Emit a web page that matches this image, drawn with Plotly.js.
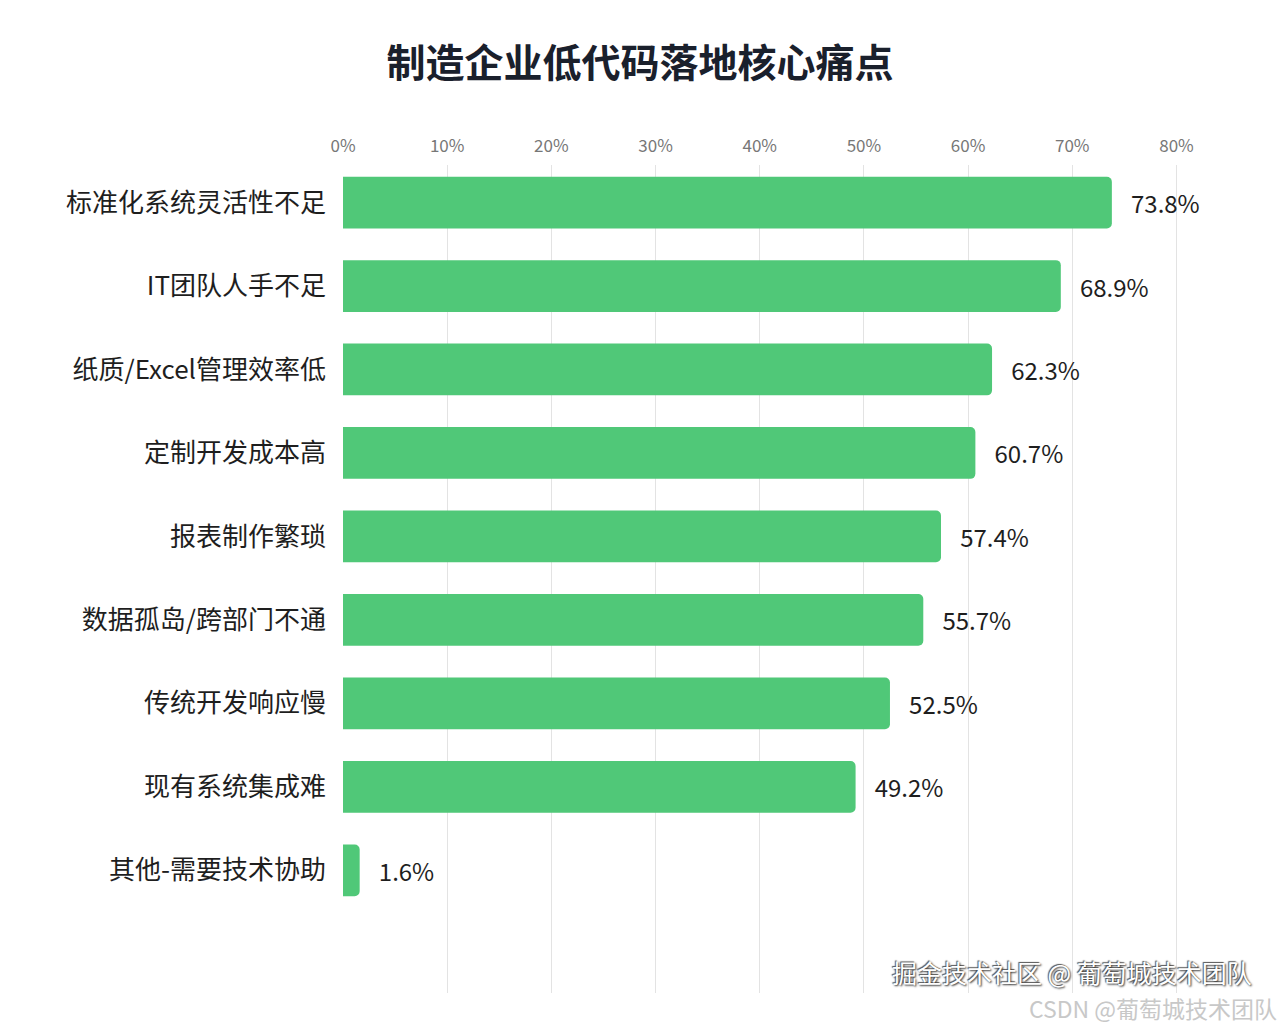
<!DOCTYPE html>
<html>
<head>
<meta charset="utf-8">
<script src="https://cdn.plot.ly/plotly-3.0.1.min.js"></script>
<style>
  html, body { margin: 0; padding: 0; background: #fff; }
  #plot { width: 1280px; height: 1025px; }
</style>
</head>
<body>
<div id="plot"></div>
<script>
const painPoints = [
    "标准化系统灵活性不足",
    "IT团队人手不足",
    "纸质/Excel管理效率低",
    "定制开发成本高",
    "报表制作繁琐",
    "数据孤岛/跨部门不通",
    "传统开发响应慢",
    "现有系统集成难",
    "其他-需要技术协助"
];
const shares = [73.8, 68.9, 62.3, 60.7, 57.4, 55.7, 52.5, 49.2, 1.6];
const xTicks = [0, 10, 20, 30, 40, 50, 60, 70, 80];
const xTickLabels = xTicks.map(v => v + "%");

const cjk = '"Noto Sans CJK SC", "Noto Sans", sans-serif';

const bars = {
    type: "bar",
    orientation: "h",
    y: painPoints,
    x: shares,
    width: 0.62,
    marker: {color: "#50c878", cornerradius: 5},
    text: shares.map(v => "   " + v.toFixed(1) + "%"),
    textposition: "outside",
    textfont: {family: cjk, size: 24, color: "#1e1e1e"},
    cliponaxis: false,
    hoverinfo: "skip"
};

Plotly.newPlot("plot", [bars], {
    width: 1280,
    height: 1025,
    paper_bgcolor: "#fff",
    plot_bgcolor: "#fff",
    margin: {l: 343, r: 90, t: 165, b: 32},
    showlegend: false,
    title: {
        text: "<b>制造企业低代码落地核心痛点</b>",
        font: {family: cjk, size: 39, color: "#1a202c"},
        x: 0.5,
        xanchor: "center",
        y: 0.938,
        yanchor: "middle"
    },
    xaxis: {
        side: "top",
        range: [0, 81.3],
        tickvals: xTicks,
        ticktext: xTickLabels,
        tickfont: {family: cjk, size: 17, color: "#777"},
        ticklabelstandoff: 9,
        showgrid: true,
        gridcolor: "#e3e3e3",
        gridwidth: 1,
        zeroline: false,
        showline: false,
        ticks: "",
        fixedrange: true
    },
    yaxis: {
        categoryorder: "array",
        categoryarray: painPoints,
        autorange: false,
        range: [9.47, -0.45],
        tickfont: {family: cjk, size: 26, color: "#1e1e1e"},
        ticklabelstandoff: 16,
        showgrid: false,
        zeroline: false,
        showline: false,
        ticks: "",
        fixedrange: true
    },
    annotations: [
        {
            text: "掘金技术社区 @ 葡萄城技术团队",
            xref: "paper", yref: "paper",
            x: 1.075, y: 0.001,
            xanchor: "right", yanchor: "bottom",
            showarrow: false,
            font: {family: cjk, size: 25, color: "#fff", shadow: "1px 1px 2px #333, -1px -1px 1px #555"}
        },
        {
            text: "CSDN @葡萄城技术团队",
            xref: "paper", yref: "paper",
            x: 1.105, y: -0.041,
            xanchor: "right", yanchor: "bottom",
            showarrow: false,
            font: {family: cjk, size: 23, color: "#c8c8c8"}
        }
    ]
}, {displayModeBar: false});
</script>
</body>
</html>
